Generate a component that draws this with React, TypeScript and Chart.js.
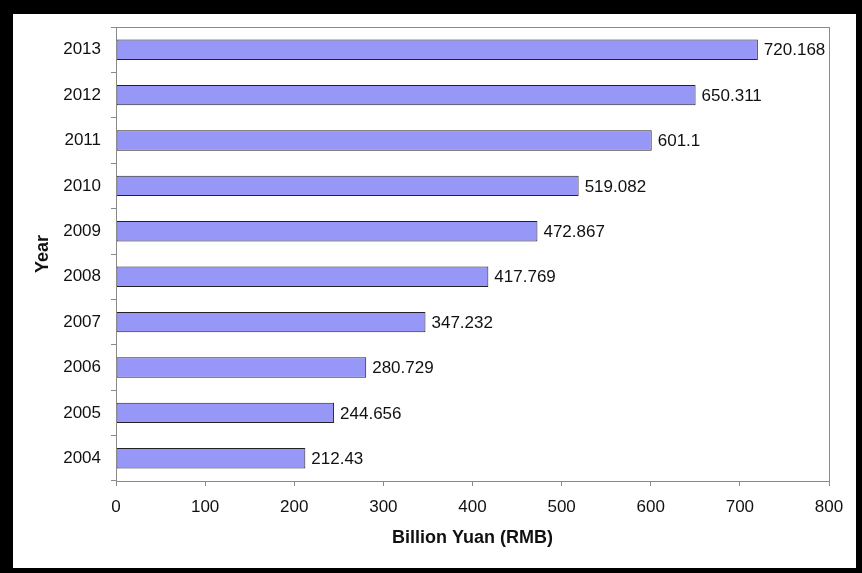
import React, { useEffect, useRef } from "react";
import { Chart, registerables } from "chart.js";

Chart.register(...registerables);

const years: string[] = ["2004", "2005", "2006", "2007", "2008", "2009", "2010", "2011", "2012", "2013"];
const values: number[] = [212.43, 244.656, 280.729, 347.232, 417.769, 472.867, 519.082, 601.1, 650.311, 720.168];
const valueLabels: string[] = ["212.43", "244.656", "280.729", "347.232", "417.769", "472.867", "519.082", "601.1", "650.311", "720.168"];
const xTitle = "Billion Yuan (RMB)";
const yTitle = "Year";

const FONT = "'Liberation Sans', Arial, Helvetica, sans-serif";

const frameAndLabels = {
  id: "frameAndLabels",
  afterDatasetsDraw(chart: any) {
    const { ctx, chartArea } = chart;
    ctx.save();
    ctx.strokeStyle = "#8a8a8a";
    ctx.lineWidth = 1;
    ctx.strokeRect(
      Math.round(chartArea.left) + 0.5,
      Math.round(chartArea.top) + 0.5,
      Math.round(chartArea.right - chartArea.left),
      Math.round(chartArea.bottom - chartArea.top)
    );
    const meta = chart.getDatasetMeta(0);
    ctx.fillStyle = "#111";
    ctx.font = `17px ${FONT}`;
    ctx.textAlign = "left";
    ctx.textBaseline = "middle";
    meta.data.forEach((el: any, i: number) => {
      ctx.fillText(valueLabels[i], el.x + 6, el.y + 1);
    });
    ctx.restore();
  },
};

export default function App() {
  const ref = useRef<HTMLCanvasElement | null>(null);
  useEffect(() => {
    if (!ref.current) return;
    const chart = new Chart(ref.current, {
      type: "bar",
      data: {
        labels: years,
        datasets: [
          {
            data: values,
            backgroundColor: "#9797f8",
            borderColor: "#222",
            borderWidth: 1,
            borderSkipped: false,
            barPercentage: 0.45,
            categoryPercentage: 1,
          },
        ],
      },
      options: {
        indexAxis: "y",
        animation: false,
        responsive: false,
        maintainAspectRatio: false,
        layout: { autoPadding: false, padding: { top: 13, right: 27, left: 0, bottom: 0 } },
        plugins: { legend: { display: false }, tooltip: { enabled: false } },
        scales: {
          x: {
            min: 0,
            max: 800,
            ticks: { stepSize: 100, color: "#111", font: { family: FONT, size: 17 }, padding: 11 },
            grid: { drawOnChartArea: false, drawTicks: true, tickLength: 5, color: "#8a8a8a" },
            border: { display: true, color: "#8a8a8a" },
            title: {
              display: true,
              text: xTitle,
              color: "#111",
              font: { family: FONT, size: 18, weight: "bold" },
              padding: { top: 0, bottom: 19 },
            },
            afterFit: (s: any) => {
              s.height = 87;
            },
          },
          y: {
            reverse: true,
            ticks: { color: "#111", font: { family: FONT, size: 17 }, padding: 10 },
            grid: { drawOnChartArea: false, drawTicks: true, tickLength: 5, color: "#8a8a8a", offset: true },
            border: { display: true, color: "#8a8a8a" },
            title: {
              display: true,
              text: yTitle,
              color: "#111",
              font: { family: FONT, size: 18, weight: "bold" },
              padding: { top: 19, bottom: 0 },
            },
            afterFit: (s: any) => {
              s.width = 103;
              s.paddingTop = 0;
              s.paddingBottom = 0;
            },
          },
        },
      },
      plugins: [frameAndLabels],
    });
    return () => chart.destroy();
  }, []);
  return (
    <div style={{ position: "fixed", left: 0, top: 0, width: 862, height: 573, background: "#000" }}>
      <div style={{ position: "absolute", left: 13, top: 14, width: 843, height: 554, background: "#fff" }}>
        <canvas ref={ref} width={843} height={554} style={{ width: 843, height: 554, display: "block" }} />
      </div>
    </div>
  );
}
